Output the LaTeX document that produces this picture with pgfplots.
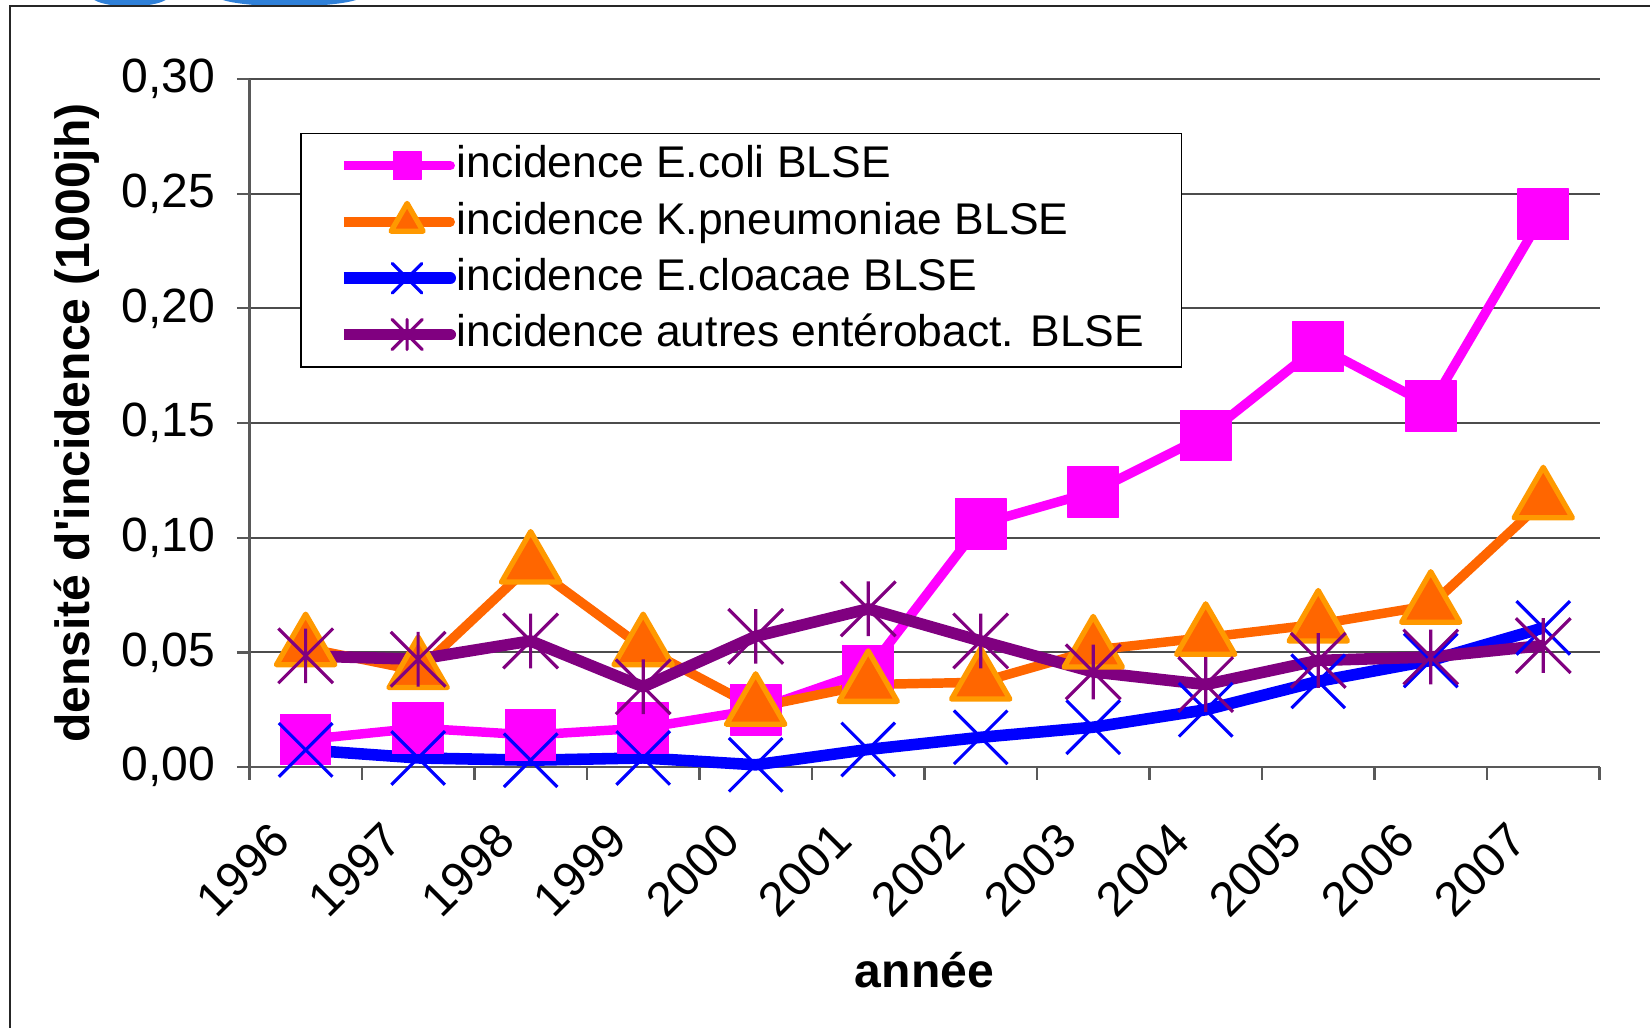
\documentclass[border=0pt]{standalone}
\usepackage{fontspec}
\setmainfont{Liberation Sans}
\usepackage{pgfplots}
\usepackage{pgfplotstable}
\pgfplotsset{compat=1.18}

\definecolor{ecoli}{HTML}{FF00FF}
\definecolor{kpn}{HTML}{FF6600}
\definecolor{kpnedge}{HTML}{FF9900}
\definecolor{clo}{HTML}{0000FF}
\definecolor{autre}{HTML}{800080}
\definecolor{deco}{HTML}{2F80D8}

% Excel-style star: an x with a vertical bar through it
\pgfdeclareplotmark{xstar}{%
  \pgfpathmoveto{\pgfqpoint{-\pgfplotmarksize}{-\pgfplotmarksize}}%
  \pgfpathlineto{\pgfqpoint{\pgfplotmarksize}{\pgfplotmarksize}}%
  \pgfpathmoveto{\pgfqpoint{-\pgfplotmarksize}{\pgfplotmarksize}}%
  \pgfpathlineto{\pgfqpoint{\pgfplotmarksize}{-\pgfplotmarksize}}%
  \pgfpathmoveto{\pgfqpoint{0pt}{-\pgfplotmarksize}}%
  \pgfpathlineto{\pgfqpoint{0pt}{\pgfplotmarksize}}%
  \pgfusepathqstroke}

% idx 0..11 = 1996..2007
\pgfplotstableread{
idx ecoli  kpn    clo    autres
0   0.012  0.052  0.0075 0.0485
1   0.017  0.042  0.004  0.047
2   0.014  0.088  0.003  0.055
3   0.017  0.052  0.004  0.035
4   0.025  0.026  0.001  0.057
5   0.042  0.036  0.0077 0.069
6   0.106  0.037  0.013  0.055
7   0.120  0.051  0.0174 0.0415
8   0.1445 0.0565 0.025  0.036
9   0.1834 0.0623 0.0374 0.0465
10  0.1575 0.0705 0.0465 0.048
11  0.241  0.116  0.0607 0.053
}\data

\begin{document}
\begin{tikzpicture}
\useasboundingbox (0,0) rectangle (15.68cm,9.76cm);
% slide decoration peeking above the frame
\begin{scope}
  \clip (0,9.70cm) rectangle (15.68cm,9.76cm);
  \fill[deco] (1.235cm,9.80cm) ellipse (0.37cm and 0.1cm);
  \fill[deco] (2.75cm,9.80cm) ellipse (0.69cm and 0.1cm);
\end{scope}
\draw[black!85, line width=0.5pt] (0.095cm,-1cm) -- (0.095cm,9.705cm) -- (17cm,9.705cm);

\begin{axis}[
  at={(2.37cm,2.47cm)}, anchor=south west,
  scale only axis, width=12.83cm, height=6.54cm,
  xmin=-0.5, xmax=11.5, ymin=0, ymax=0.30,
  clip=false,
  axis lines*=left,
  axis line style={black!65, line width=0.6pt},
  xtick={-0.5,0.5,...,11.5},
  xticklabels={1996,1997,1998,1999,2000,2001,2002,2003,2004,2005,2006,2007,},
  ytick={0,0.05,0.1,0.15,0.2,0.25,0.3},
  ymajorgrids,
  grid style={black!70, line width=0.5pt},
  tick align=outside, major tick length=0.12cm,
  tick style={black!65, line width=0.6pt},
  /pgf/number format/.cd, fixed, fixed zerofill, precision=2, use comma, assume math mode=true,
  /pgfplots/.cd,
  tick label style={font=\fontsize{13}{15}\selectfont},
  yticklabel style={anchor=east, inner sep=0pt, xshift=-0.2cm},
  xticklabel style={inner sep=0pt, xshift=0.18cm, yshift=-0.37cm, rotate=45, anchor=north east},
  ylabel={densité d\textquotesingle incidence (1000jh)},
  ylabel style={font=\bfseries\fontsize{13}{15}\selectfont, at={(rel axis cs:-0.128,0.5)}, anchor=center},
  xlabel={année},
  xlabel style={font=\bfseries\fontsize{13}{15}\selectfont, at={(rel axis cs:0.5,-0.295)}, anchor=center},
  legend cell align=left,
  legend style={at={(rel axis cs:0.0374,0.922)}, anchor=north west,
    draw=black, line width=0.5pt, fill=white,
    font=\fontsize{12}{14}\selectfont,
    inner xsep=0.355cm, inner ysep=0.1cm,
    nodes={inner sep=0pt, text height=0.32cm, text depth=0.09cm},
    row sep=0.125cm, column sep=0cm},
  legend image code/.code={%
    \path (0cm,0cm) -- (1.015cm,0cm);
    \draw[#1, line cap=round, mark repeat=2, mark phase=2, every mark/.append style={scale=0.55}]
      plot coordinates {(0.19cm,0cm) (0.60cm,0cm) (1.01cm,0cm)};},
]
\addplot[color=ecoli, line width=0.09cm, line join=round, mark=square*, mark size=0.24cm,
  mark options={solid, fill=ecoli, draw=ecoli, line width=0.3pt}]
  table[x=idx, y=ecoli] {\data};
\addlegendentry{incidence E.coli BLSE}
\addplot[color=kpn, line width=0.09cm, line join=round, mark=triangle*, mark size=0.32cm,
  mark options={solid, fill=kpn, draw=kpnedge, line width=0.05cm}]
  table[x=idx, y=kpn] {\data};
\addlegendentry{incidence K.pneumoniae BLSE}
\addplot[color=clo, line width=0.11cm, line join=round, mark=x, mark size=0.36cm,
  mark options={solid, draw=clo, line width=0.03cm}]
  table[x=idx, y=clo] {\data};
\addlegendentry{incidence E.cloacae BLSE}
\addplot[color=autre, line width=0.11cm, line join=round, mark=xstar, mark size=0.26cm,
  mark options={solid, draw=autre, line width=0.03cm}]
  table[x=idx, y=autres] {\data};
\addlegendentry{incidence autres entérobact. BLSE}
\end{axis}
\end{tikzpicture}
\end{document}
